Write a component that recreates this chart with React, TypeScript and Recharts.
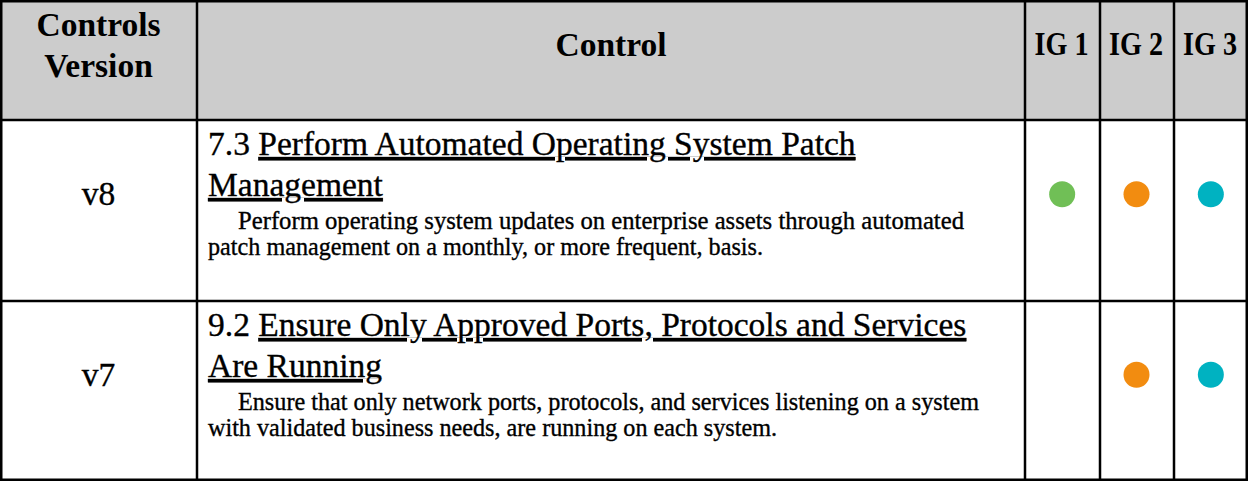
import { ScatterChart, Scatter, XAxis, YAxis, Customized } from 'recharts';

const versions = ['v8', 'v7'];
const controlIds = ['7.3', '9.2'];
const controlTitles = [
  ['Perform Automated Operating System Patch', 'Management'],
  ['Ensure Only Approved Ports, Protocols and Services', 'Are Running'],
];
const controlDescriptions = [
  ['Perform operating system updates on enterprise assets through automated', 'patch management on a monthly, or more frequent, basis.'],
  ['Ensure that only network ports, protocols, and services listening on a system', 'with validated business needs, are running on each system.'],
];
const headerVersion = ['Controls', 'Version'];
const headerControl = 'Control';
const igLevels = ['IG 1', 'IG 2', 'IG 3'];
const igColors = ['#70bf56', '#f28c10', '#00b2c1'];
const igApplies = [
  [true, true, true],
  [false, true, true],
];

// layout of the table
const W = 1248;
const H = 481;
const COL_X = [0, 197, 1025, 1100, 1174, 1248];
const ROW_Y = [0, 120, 301, 480];
const FONT = '"Liberation Serif", "Times New Roman", serif';
const LINE = 2.5;
const TITLE_SIZE = 33.5;
const BODY_SIZE = 24.5;
// measured line widths of the description text, per row
const BODY_WIDTHS = [[726, 555], [741, 569]];

const dots = versions.flatMap((version, row) =>
  igLevels.flatMap((ig, col) =>
    igApplies[row][col] ? [{ row, col, version, ig, color: igColors[col] }] : []
  )
);

function TableGrid() {
  const half = LINE / 2;
  const edgeX = (x: number) => Math.min(Math.max(x, half), W - half);
  const edgeY = (y: number) => Math.min(Math.max(y, half), H - half);
  const textX = COL_X[1] + 11;
  const verCx = (COL_X[0] + COL_X[1]) / 2;
  const ink = { stroke: '#000', strokeWidth: 0.35 };

  return (
    <g fontFamily={FONT} fill="#000">
      <rect x={0} y={0} width={W} height={ROW_Y[1]} fill="#cccccc" />

      {/* header */}
      <text x={verCx} y={36} textAnchor="middle" fontWeight="bold" fontSize={TITLE_SIZE}>{headerVersion[0]}</text>
      <text x={verCx} y={77} textAnchor="middle" fontWeight="bold" fontSize={TITLE_SIZE}>{headerVersion[1]}</text>
      <text x={(COL_X[1] + COL_X[2]) / 2} y={56} textAnchor="middle" fontWeight="bold" fontSize={TITLE_SIZE}>{headerControl}</text>
      {igLevels.map((ig, i) => (
        <text key={ig} x={(COL_X[2 + i] + COL_X[3 + i]) / 2 - 1} y={55} textAnchor="middle"
          fontWeight="bold" fontSize={TITLE_SIZE} textLength={54} lengthAdjust="spacingAndGlyphs">{ig}</text>
      ))}

      {/* body rows */}
      {versions.map((v, r) => {
        const top = ROW_Y[r + 1];
        return (
          <g key={v} {...ink}>
            <text x={verCx} y={top + 85} textAnchor="middle" fontSize={TITLE_SIZE}>{v}</text>
            <text x={textX} y={top + 35} fontSize={TITLE_SIZE}>
              <tspan>{controlIds[r]} </tspan>
              <tspan style={{ textDecoration: 'underline' }}>{controlTitles[r][0]}</tspan>
            </text>
            <text x={textX} y={top + 76} fontSize={TITLE_SIZE} style={{ textDecoration: 'underline' }}>
              {controlTitles[r][1]}
            </text>
            <text x={textX + 30} y={top + 109} fontSize={BODY_SIZE}
              textLength={BODY_WIDTHS[r][0]} lengthAdjust="spacingAndGlyphs">{controlDescriptions[r][0]}</text>
            <text x={textX} y={top + 135} fontSize={BODY_SIZE}
              textLength={BODY_WIDTHS[r][1]} lengthAdjust="spacingAndGlyphs">{controlDescriptions[r][1]}</text>
          </g>
        );
      })}

      {/* grid lines */}
      {ROW_Y.map(y => (
        <line key={`h${y}`} x1={0} x2={W} y1={edgeY(y)} y2={edgeY(y)} stroke="#000" strokeWidth={LINE} />
      ))}
      {COL_X.map(x => (
        <line key={`v${x}`} x1={edgeX(x)} x2={edgeX(x)} y1={0} y2={edgeY(ROW_Y[3])} stroke="#000" strokeWidth={LINE} />
      ))}
    </g>
  );
}

export default function App() {
  return (
    <div>
      <style>{'body{margin:0}'}</style>
      <ScatterChart width={W} height={H} margin={{ top: 0, right: 0, bottom: 0, left: 0 }}>
        <XAxis type="number" dataKey="col" domain={[-0.5, igLevels.length - 0.5]} allowDataOverflow
          padding={{ left: COL_X[2], right: 0 }} hide />
        <YAxis type="number" dataKey="row" domain={[-0.5, versions.length - 0.5]} allowDataOverflow reversed
          padding={{ top: 104, bottom: 16 }} hide />
        <Customized component={TableGrid} />
        <Scatter
          data={dots}
          isAnimationActive={false}
          shape={(p: any) => <circle cx={p.cx} cy={p.cy} r={13} fill={p.payload.color} />}
        />
      </ScatterChart>
    </div>
  );
}
